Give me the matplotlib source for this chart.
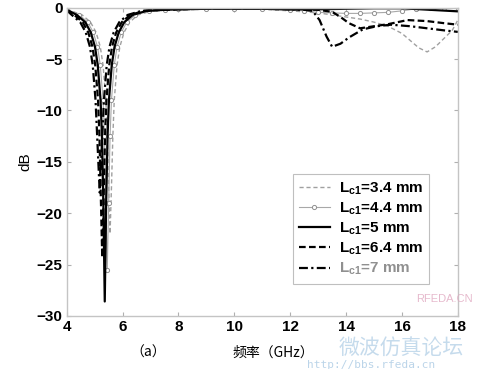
import matplotlib
matplotlib.use("Agg")
import matplotlib.pyplot as plt

plt.rcParams['font.family'] = ['Liberation Sans', 'DejaVu Sans']
plt.rcParams['mathtext.fontset'] = 'custom'
plt.rcParams['mathtext.rm'] = 'Liberation Sans'
plt.rcParams['mathtext.bf'] = 'Liberation Sans:bold'

# values (frequency in GHz, S11 in dB)
f_34 = [4.0, 4.55, 4.85, 5.05, 5.2, 5.3, 5.4, 5.45, 5.5, 5.55, 5.6, 5.65, 5.7, 5.8, 5.9, 6.05, 6.25, 6.55,
        7.05, 7.6, 8, 9, 10, 11, 12, 13, 13.5, 14, 14.5, 15, 15.5, 16, 16.3, 16.6, 16.9, 17.2, 17.5, 17.8, 18]
db_34 = [-0.15, -0.7, -1.4, -2.4, -3.8, -5.6, -9, -12.5, -17.5, -22, -17.5, -12.5, -9, -5.6, -3.8, -2.4, -1.4, -0.7,
         -0.3, -0.2, -0.15, -0.1, -0.1, -0.15, -0.3, -0.5, -0.7, -0.9, -1.1, -1.4, -1.8, -2.5, -3.2, -3.9, -4.3, -3.8, -3.0, -2.2, -1.2]

f_44 = [4.0, 4.45, 4.75, 4.95, 5.1, 5.2, 5.3, 5.35, 5.4, 5.45, 5.5, 5.55, 5.6, 5.7, 5.8, 5.95, 6.15, 6.45,
        6.95, 7.5, 8, 9, 10, 11, 12, 12.5, 13, 13.5, 14, 14.5, 15, 15.5, 16, 16.5, 17, 17.5, 18]
db_44 = [-0.15, -0.7, -1.4, -2.4, -3.8, -5.6, -9, -12.5, -19, -25.5, -19, -12.5, -9, -5.6, -3.8, -2.4, -1.4, -0.7,
         -0.3, -0.2, -0.15, -0.1, -0.1, -0.1, -0.2, -0.3, -0.45, -0.5, -0.55, -0.55, -0.5, -0.45, -0.3, -0.1, 0.0, 0.0, 0.0]

f_50 = [4.0, 4.36, 4.66, 4.86, 5.01, 5.11, 5.21, 5.26, 5.31, 5.36, 5.41, 5.46, 5.51, 5.61, 5.71, 5.86, 6.06, 6.36,
        6.86, 7.5, 8, 9, 10, 11, 12, 13, 14, 15, 16, 17, 18]
db_50 = [-0.2, -0.7, -1.4, -2.4, -3.8, -5.6, -9, -12.5, -19, -28.6, -19, -12.5, -9, -5.6, -3.8, -2.4, -1.4, -0.7,
         -0.3, -0.2, -0.15, -0.1, -0.1, -0.1, -0.15, -0.15, -0.1, -0.05, -0.05, -0.2, -0.35]

f_64 = [4.0, 4.27, 4.57, 4.77, 4.92, 5.02, 5.12, 5.17, 5.22, 5.27, 5.32, 5.37, 5.42, 5.52, 5.62, 5.77, 5.97, 6.27,
        6.77, 7.5, 8, 9, 10, 11, 12, 13, 13.5, 13.8, 14.1, 14.5, 15, 15.5, 16.2, 16.9, 17.5, 18]
db_64 = [-0.2, -0.7, -1.4, -2.4, -3.8, -5.6, -9, -12.5, -18.5, -24.3, -18.5, -12.5, -9, -5.6, -3.8, -2.4, -1.4, -0.7,
         -0.3, -0.2, -0.15, -0.1, -0.1, -0.1, -0.15, -0.2, -0.4, -0.9, -1.5, -2.0, -1.8, -1.6, -1.2, -1.3, -1.5, -1.65]

f_70 = [4.0, 4.18, 4.48, 4.68, 4.83, 4.93, 5.03, 5.08, 5.13, 5.18, 5.23, 5.28, 5.33, 5.43, 5.53, 5.68, 5.88, 6.18,
        6.68, 7.5, 8, 9, 10, 11, 12, 12.5, 12.8, 13.05, 13.3, 13.5, 13.8, 14.1, 14.6, 15.1, 15.6, 16.3, 16.9, 17.5, 18]
db_70 = [-0.25, -0.7, -1.4, -2.4, -3.8, -5.6, -9, -12, -15, -18, -15, -12, -9, -5.6, -3.8, -2.4, -1.4, -0.7,
         -0.3, -0.2, -0.15, -0.1, -0.1, -0.1, -0.15, -0.2, -0.3, -1.2, -2.8, -3.8, -3.5, -2.9, -2.1, -1.8, -1.65, -1.8, -2.0, -2.2, -2.35]

labels = [r'$\mathbf{L_{c1}}$=3.4 mm', r'$\mathbf{L_{c1}}$=4.4 mm', r'$\mathbf{L_{c1}}$=5 mm',
          r'$\mathbf{L_{c1}}$=6.4 mm', r'$\mathbf{L_{c1}}$=7 mm']

fig = plt.figure(figsize=(5.02, 3.69), dpi=100)
ax = fig.add_axes([0.133, 0.144, 0.779, 0.835])

ax.plot(f_34, db_34, color='#a0a0a0', lw=1.0, dashes=(3, 2), label=labels[0])
ax.plot(f_44, db_44, color='#a8a8a8', lw=0.8, marker='o', ms=3, mfc='white', mec='#909090', mew=0.7,
        label=labels[1])
ax.plot(f_50, db_50, color='black', lw=1.6, label=labels[2])
ax.plot(f_64, db_64, color='black', lw=1.6, dashes=(3, 1.5), label=labels[3])
ax.plot(f_70, db_70, color='black', lw=1.6, dashes=(4, 1.5, 1, 1.5), label=labels[4])

ax.set_xlim(4, 18)
ax.set_ylim(-30, 0)
ax.set_xticks(range(4, 19, 2))
ax.set_yticks(range(-30, 1, 5))
for lab in ax.get_xticklabels() + ax.get_yticklabels():
    lab.set_fontweight('bold')
    lab.set_fontsize(11)
ax.tick_params(direction='in', length=3, color='#b0b0b0', top=True, right=True, pad=3)
for s in ax.spines.values():
    s.set_color('#c4c4c4')
    s.set_linewidth(1.0)
ax.set_ylabel('dB', fontsize=11)
ax.yaxis.set_label_coords(-0.088, 0.5)

leg = ax.legend(loc='lower right', bbox_to_anchor=(0.946, 0.08), fontsize=11, frameon=True,
                fancybox=False, edgecolor='#b0b0b0', handlelength=2.0, labelspacing=0.25,
                borderpad=0.4, handletextpad=0.6)
leg.get_frame().set_linewidth(0.8)
for t in leg.get_texts():
    t.set_fontweight('bold')
leg.get_texts()[4].set_color('#909090')

# caption under the axis
cjk = ['Noto Sans CJK SC', 'DejaVu Sans']
fig.text(0.295, 0.045, '（a）', family=cjk, fontsize=10, ha='center', va='center')
fig.text(0.545, 0.045, '频率（GHz）', family=cjk, fontsize=10, ha='center', va='center')

# forum watermark
fig.text(0.8, 0.056, '微波仿真论坛', family=cjk, fontsize=15, color='#9fc3e0', alpha=0.6,
         ha='center', va='center')
fig.text(0.74, 0.011, 'http://bbs.rfeda.cn', family='DejaVu Sans Mono', fontsize=8, color='#9fc3e0',
         alpha=0.7, ha='center', va='center')
fig.text(0.885, 0.19, 'RFEDA.CN', fontsize=8, color='#e0a8c0', alpha=0.8, ha='center', va='center')

fig.savefig('out.png', dpi=100)
